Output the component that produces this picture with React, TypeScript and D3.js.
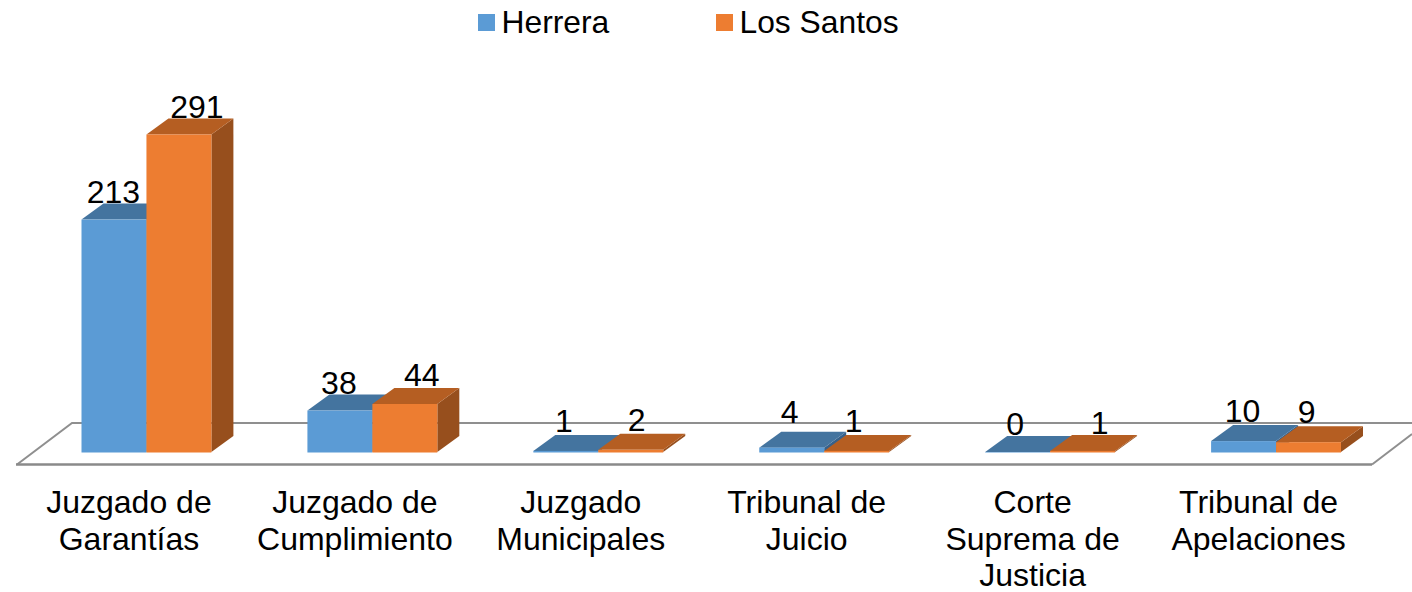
import React from "react";
import * as d3 from "d3";

const categories = [
  ["Juzgado de", "Garantías"],
  ["Juzgado de", "Cumplimiento"],
  ["Juzgado", "Municipales"],
  ["Tribunal de", "Juicio"],
  ["Corte", "Suprema de", "Justicia"],
  ["Tribunal de", "Apelaciones"],
];
const herrera = [213, 38, 1, 4, 0, 10];
const losSantos = [291, 44, 2, 1, 1, 9];
const seriesNames = ["Herrera", "Los Santos"];

// label nudges (layout only): horizontal from bar centre, vertical from bar back-top edge
const labelDx = [[-0.5, 18], [-1, 17], [-2, 6], [-2, -3], [-2.5, 17], [-1, -2]];
const labelDy = [[-1, -1], [-1, -2], [-3, -3], [-9, -3], [-1, -1], [-3, -3]];

const W = 1412;
const H = 592;
const FONT = "'Liberation Sans', Arial, sans-serif";
const FS = 32;
const DEPTH_X = 22;
const DEPTH_Y = 16;
const BASE = 452;

const colors = [
  { front: "#5B9BD5", top: "#44749F", side: "#37618A" },
  { front: "#ED7D31", top: "#B55E22", side: "#974F1D" },
];

const x0 = d3.scaleBand<number>().domain(d3.range(categories.length)).range([81.5, 1341]).paddingInner(0.425);
const x1 = d3.scaleBand<number>().domain([0, 1]).range([0, x0.bandwidth()]);
const y = d3.scaleLinear().domain([0, 291]).range([BASE, 134.5]);
const poly = d3.line();

export default function App() {
  const values = [herrera, losSantos];
  const bw = x1.bandwidth();
  return (
    <svg width={W} height={H} viewBox={`0 0 ${W} ${H}`} style={{ position: "absolute", left: 0, top: 0, display: "block" }} fontFamily={FONT} fontSize={FS} fill="#000">
      <rect width={W} height={H} fill="#fff" />
      {/* floor */}
      <path d={poly([[1412, 423], [72, 423], [17, 464.5]])!} fill="none" stroke="#8f8f8f" strokeWidth={2} />
      <path d={poly([[16, 464.5], [1372, 464.5]])!} fill="none" stroke="#8a8a8a" strokeWidth={2.6} />
      <path d={poly([[1372, 464.5], [1412, 434]])!} fill="none" stroke="#8f8f8f" strokeWidth={2} />
      {/* bars */}
      {categories.map((_, i) => (
        <g key={i}>
          {values.map((vals, s) => {
            const xl = x0(i)! + x1(s)!;
            const xr = xl + bw;
            const t = y(vals[i]);
            const c = colors[s];
            return (
              <g key={s}>
                <path d={poly([[xr, t], [xr + DEPTH_X, t - DEPTH_Y], [xr + DEPTH_X, BASE - DEPTH_Y], [xr, BASE]])! + "Z"} fill={c.side} />
                <path d={poly([[xl, t], [xl + DEPTH_X, t - DEPTH_Y], [xr + DEPTH_X, t - DEPTH_Y], [xr, t]])! + "Z"} fill={c.top} />
                <rect x={xl} y={t} width={bw} height={BASE - t + 0.5} fill={c.front} />
              </g>
            );
          })}
        </g>
      ))}
      {/* data labels */}
      {categories.map((_, i) =>
        values.map((vals, s) => (
          <text
            key={`${i}-${s}`}
            x={x0(i)! + x1(s)! + bw / 2 + labelDx[i][s]}
            y={y(vals[i]) - DEPTH_Y + labelDy[i][s]}
            textAnchor="middle"
          >
            {vals[i]}
          </text>
        ))
      )}
      {/* category labels */}
      {categories.map((lines, i) => (
        <text key={i} textAnchor="middle">
          {lines.map((l, j) => (
            <tspan key={j} x={x0(i)! + x0.bandwidth() / 2 - 17.5} y={513 + j * 36.6}>
              {l}
            </tspan>
          ))}
        </text>
      ))}
      {/* legend */}
      {seriesNames.map((n, s) => {
        const lx = [478, 716][s];
        return (
          <g key={n}>
            <rect x={lx} y={14} width={17} height={17} fill={colors[s].front} />
            <text x={lx + 23.5} y={33} fontSize={31.8}>{n}</text>
          </g>
        );
      })}
    </svg>
  );
}
